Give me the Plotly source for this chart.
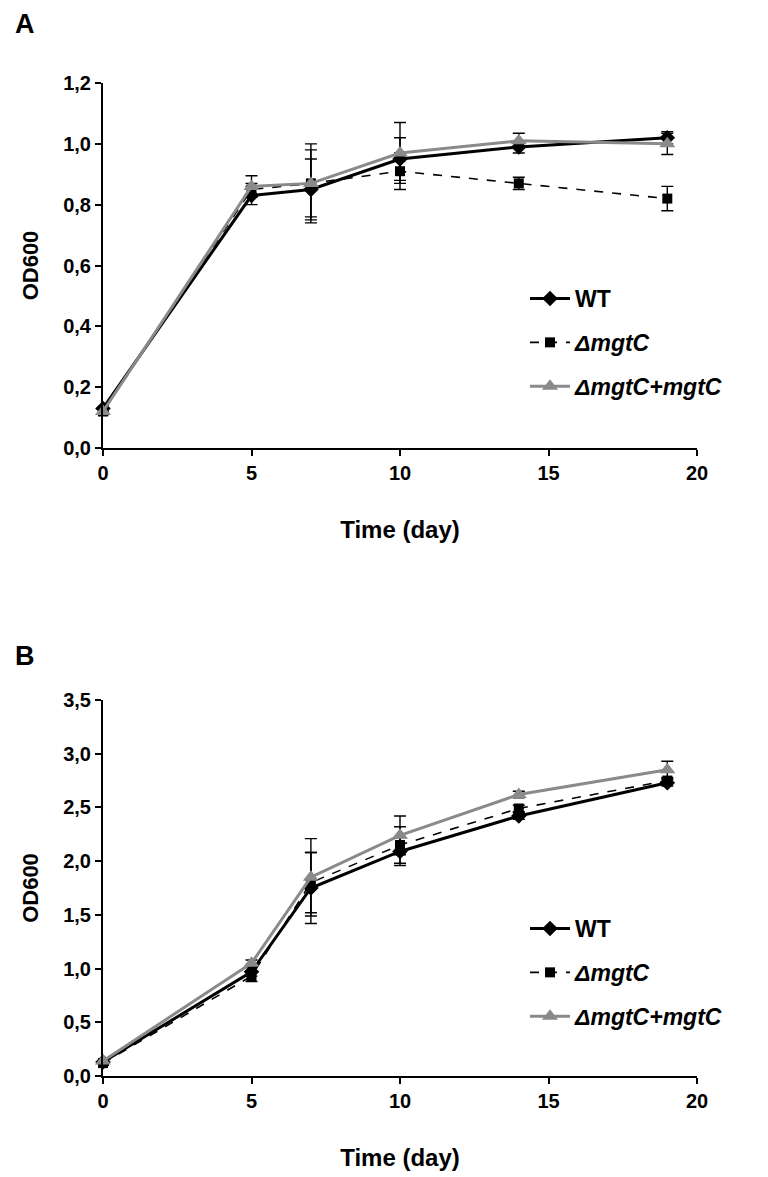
import plotly.graph_objects as go

days = [0, 5, 7, 10, 14, 19]

# Panel A
a_wt = [0.13, 0.83, 0.85, 0.95, 0.99, 1.02]
a_wt_err = [0.01, 0.03, 0.10, 0.07, 0.02, 0.02]
a_mut = [0.12, 0.85, 0.87, 0.91, 0.87, 0.82]
a_mut_err = [0.01, 0.02, 0.13, 0.06, 0.02, 0.04]
a_comp = [0.12, 0.86, 0.87, 0.97, 1.01, 1.00]
a_comp_err = [0.01, 0.035, 0.11, 0.10, 0.025, 0.035]

# Panel B
b_wt = [0.13, 0.97, 1.75, 2.09, 2.42, 2.73]
b_wt_err = [0.02, 0.04, 0.33, 0.13, 0.03, 0.03]
b_mut = [0.12, 0.93, 1.80, 2.15, 2.49, 2.75]
b_mut_err = [0.02, 0.05, 0.28, 0.17, 0.03, 0.03]
b_comp = [0.14, 1.05, 1.85, 2.24, 2.62, 2.85]
b_comp_err = [0.02, 0.03, 0.36, 0.18, 0.03, 0.08]

names = ["WT", "<i>ΔmgtC</i>", "<i>ΔmgtC+mgtC</i>"]
x_ticks = [0, 5, 10, 15, 20]
a_yticks = [0.0, 0.2, 0.4, 0.6, 0.8, 1.0, 1.2]
b_yticks = [0.0, 0.5, 1.0, 1.5, 2.0, 2.5, 3.0, 3.5]

FONT = "Liberation Sans, Arial, sans-serif"
GRAY = "#8a8a8a"

styles = [
    dict(color="black", dash="solid", width=3, symbol="diamond", msize=12),
    dict(color="black", dash="dash", width=1.6, symbol="square", msize=10),
    dict(color=GRAY, dash="solid", width=3, symbol="triangle-up", msize=14),
]

fig = go.Figure()

panels = [
    ("x", "y", "legend", [(a_wt, a_wt_err), (a_mut, a_mut_err), (a_comp, a_comp_err)]),
    ("x2", "y2", "legend2", [(b_wt, b_wt_err), (b_mut, b_mut_err), (b_comp, b_comp_err)]),
]

for xa, ya, leg, series in panels:
    for i, ((vals, errs), st) in enumerate(zip(series, styles)):
        fig.add_trace(go.Scatter(
            x=days, y=vals, xaxis=xa, yaxis=ya, name=names[i],
            legend=leg, legendgroup=f"{leg}{i}",
            mode="lines+markers", cliponaxis=False,
            line=dict(color=st["color"], dash=st["dash"], width=st["width"]),
            marker=dict(symbol=st["symbol"], size=st["msize"], color=st["color"]),
            error_y=dict(type="data", array=errs, visible=True, color="black",
                         thickness=1.4, width=6),
        ))

axis_common = dict(
    showline=True, linecolor="black", linewidth=2, ticks="outside",
    ticklen=6, tickcolor="black", tickwidth=2, showgrid=False, zeroline=False,
    automargin=False,
    tickfont=dict(family=FONT, size=20, color="black", weight="bold"),
)

W, H = 768, 1177
xdom = [95 / W, 689 / W]
a_dom = [1 - 440 / H, 1 - 75 / H]
b_dom = [1 - 1068 / H, 1 - 692 / H]

xtitle_font = dict(family=FONT, size=24, color="black", weight="bold")
ytitle_font = dict(family=FONT, size=22, color="black", weight="bold")
legend_font = dict(family=FONT, size=23, color="black", weight="bold")

fig.update_layout(
    width=W, height=H, margin=dict(l=0, r=0, t=0, b=0),
    paper_bgcolor="white", plot_bgcolor="white",
    separators=", ",
    showlegend=True,
    xaxis=dict(domain=xdom, range=[0, 20], tickvals=x_ticks, anchor="y",
               title=dict(text="Time (day)", font=xtitle_font, standoff=38), **axis_common),
    yaxis=dict(domain=a_dom, range=[0, 1.2], tickvals=a_yticks, tickformat=".1f", anchor="x",
               title=dict(text="OD600", font=ytitle_font, standoff=18), **axis_common),
    xaxis2=dict(domain=xdom, range=[0, 20], tickvals=x_ticks, anchor="y2",
                title=dict(text="Time (day)", font=xtitle_font, standoff=38), **axis_common),
    yaxis2=dict(domain=b_dom, range=[0, 3.5], tickvals=b_yticks, tickformat=".1f", anchor="x2",
                title=dict(text="OD600", font=ytitle_font, standoff=18), **axis_common),
    legend=dict(x=517 / W, y=1 - 269 / H, xanchor="left", yanchor="top",
                bgcolor="rgba(0,0,0,0)", itemwidth=40, tracegroupgap=11,
                traceorder="grouped", font=legend_font),
    legend2=dict(x=517 / W, y=1 - 899 / H, xanchor="left", yanchor="top",
                 bgcolor="rgba(0,0,0,0)", itemwidth=40, tracegroupgap=11,
                 traceorder="grouped", font=legend_font),
    annotations=[
        dict(text="A", x=5 / W, y=1 - 16 / H, xref="paper", yref="paper",
             xanchor="left", yanchor="middle", showarrow=False,
             font=dict(family=FONT, size=27, color="black", weight="bold")),
        dict(text="B", x=5 / W, y=1 - 648 / H, xref="paper", yref="paper",
             xanchor="left", yanchor="middle", showarrow=False,
             font=dict(family=FONT, size=27, color="black", weight="bold")),
    ],
)

fig.write_html("out.html")
